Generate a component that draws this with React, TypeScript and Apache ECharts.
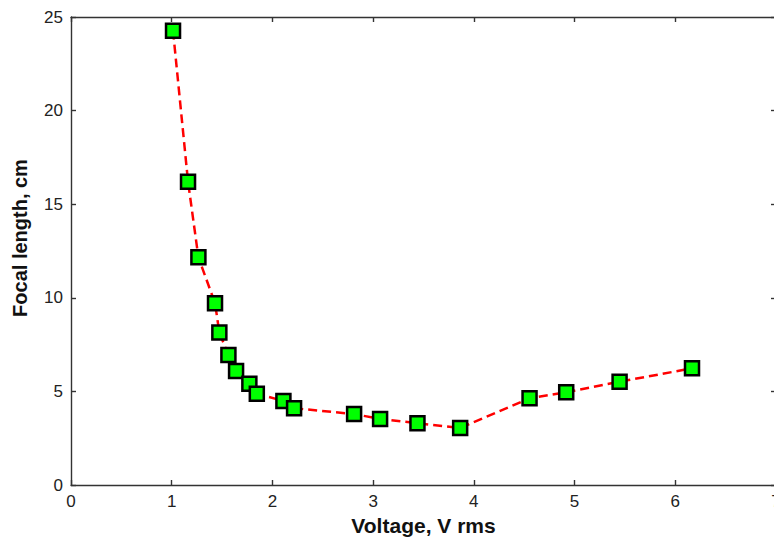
import React, { useEffect, useRef } from "react";
import * as echarts from "echarts";

const voltage = [1.013, 1.162, 1.265, 1.43, 1.473, 1.563, 1.639, 1.771, 1.845, 2.109, 2.215, 2.811, 3.069, 3.44, 3.864, 4.553, 4.917, 5.447, 6.166];
const focal = [24.27, 16.2, 12.16, 9.71, 8.14, 6.94, 6.09, 5.41, 4.88, 4.49, 4.1, 3.79, 3.53, 3.3, 3.05, 4.63, 4.95, 5.52, 6.23];

const xTitle = "Voltage, V rms";
const yTitle = "Focal length, cm";

export default function App() {
  const ref = useRef<HTMLDivElement>(null);
  useEffect(() => {
    if (!ref.current) return;
    const chart = echarts.init(ref.current, null, { renderer: "svg" });
    const font = "Liberation Sans, Arial, sans-serif";
    const labelFont = "Liberation Sans Narrow, Liberation Sans, Arial, sans-serif";
    const axisLine = { show: true, onZero: false, lineStyle: { color: "#333", width: 1.4 } };
    const tick = { show: true, inside: true, length: 5, lineStyle: { color: "#333", width: 1.4 } };
    chart.setOption({
      animation: false,
      backgroundColor: "#fff",
      grid: { left: 71, top: 17, width: 705, height: 468, containLabel: false, outerBoundsMode: "none" },
      xAxis: [
        {
          type: "value", min: 0, max: 7, interval: 1, position: "bottom",
          axisLine, axisTick: tick, splitLine: { show: false },
          axisLabel: { color: "#222", fontSize: 17, fontFamily: labelFont, margin: 8 },
          name: xTitle, nameLocation: "middle", nameGap: 26,
          nameTextStyle: { color: "#111", fontSize: 21, fontWeight: "bold", fontFamily: font },
        },
        {
          type: "value", min: 0, max: 7, interval: 1, position: "top",
          axisLine, axisTick: tick, splitLine: { show: false }, axisLabel: { show: false },
        },
      ],
      yAxis: [
        {
          type: "value", min: 0, max: 25, interval: 5, position: "left",
          axisLine, axisTick: tick, splitLine: { show: false },
          axisLabel: { color: "#222", fontSize: 17, fontFamily: labelFont, margin: 8 },
        },
        {
          type: "value", min: 0, max: 25, interval: 5, position: "right",
          axisLine, axisTick: tick, splitLine: { show: false }, axisLabel: { show: false },
        },
      ],
      graphic: [
        {
          type: "text", x: 20, y: 238, rotation: Math.PI / 2,
          style: {
            text: yTitle, align: "center", verticalAlign: "middle",
            fill: "#111", font: `bold 20px ${font}`,
          },
        },
      ],
      series: [
        {
          type: "line",
          data: voltage.map((v, i) => [v, focal[i]]),
          lineStyle: { color: "#ff0000", width: 2.5, type: [9, 5] },
          symbol: "rect",
          symbolSize: 14,
          itemStyle: { color: "#00ff00", borderColor: "#000", borderWidth: 2.5 },
          z: 3,
        },
      ],
    });
    return () => chart.dispose();
  }, []);
  return <div ref={ref} style={{ width: 774, height: 537, position: "absolute", left: 0, top: 0 }} />;
}
